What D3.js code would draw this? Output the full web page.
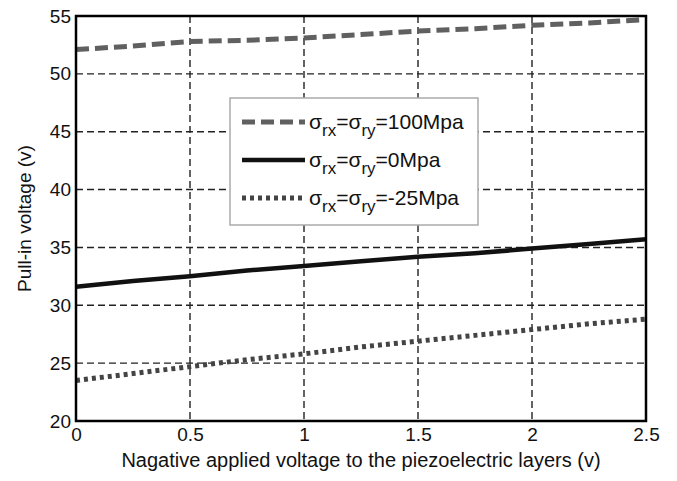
<!DOCTYPE html>
<html>
<head>
<meta charset="utf-8">
<script src="https://cdn.jsdelivr.net/npm/d3@7"></script>
<style>
  body { margin: 0; background: #fff; }
  svg { font-family: "Liberation Sans", Arial, sans-serif; }
  .grid line { stroke: #222; stroke-width: 1.4; stroke-dasharray: 7,4; }
  .tick text { font-size: 19px; fill: #111; }
</style>
</head>
<body>
<svg id="chart" width="677" height="481"></svg>
<script>
// data
const xValues = [0, 0.25, 0.5, 0.75, 1, 1.25, 1.5, 1.75, 2, 2.25, 2.5]
const stress100 = [52.1, 52.4, 52.8, 52.9, 53.1, 53.4, 53.7, 53.9, 54.2, 54.4, 54.7]
const stress0 = [31.6, 32.1, 32.5, 33.0, 33.4, 33.8, 34.2, 34.5, 34.9, 35.3, 35.7]
const stressNeg25 = [23.5, 24.1, 24.7, 25.3, 25.8, 26.4, 26.9, 27.4, 27.9, 28.4, 28.8]
const xTicks = [0, 0.5, 1, 1.5, 2, 2.5]
const yTicks = [20, 25, 30, 35, 40, 45, 50, 55]
const legendLabels = ['100Mpa', '0Mpa', '-25Mpa']

const margin = {top: 16, right: 31, bottom: 60, left: 76}
const width = 677 - margin.left - margin.right
const height = 481 - margin.top - margin.bottom

const svg = d3.select('#chart')
const g = svg.append('g')
  .attr('transform', 'translate(' + margin.left + ',' + margin.top + ')')

const x = d3.scaleLinear().domain([0, 2.5]).range([0, width])
const y = d3.scaleLinear().domain([20, 55]).range([height, 0])

// grid
const grid = g.append('g').classed('grid', true)
grid.selectAll('line.v')
  .data(xTicks.slice(1, -1))
  .enter().append('line')
  .attr('x1', d => x(d)).attr('x2', d => x(d))
  .attr('y1', 0).attr('y2', height)
grid.selectAll('line.h')
  .data(yTicks.slice(1, -1))
  .enter().append('line')
  .attr('x1', 0).attr('x2', width)
  .attr('y1', d => y(d)).attr('y2', d => y(d))

// axes
const xAxis = d3.axisBottom(x).tickValues(xTicks).tickSize(0).tickPadding(7)
  .tickFormat(d3.format('~g'))
const yAxis = d3.axisLeft(y).tickValues(yTicks).tickSize(0).tickPadding(5)
g.append('g').attr('transform', 'translate(0,' + height + ')').call(xAxis)
  .call(s => s.select('.domain').remove())
g.append('g').call(yAxis)
  .call(s => s.select('.domain').remove())

// series
const series = [
  {values: stress100, color: '#606060', width: 5, dash: '13,6'},
  {values: stress0, color: '#111', width: 4.5, dash: null},
  {values: stressNeg25, color: '#444', width: 5, dash: '4,4'}
]
const line = d3.line().x(d => x(d[0])).y(d => y(d[1]))
series.forEach(s => {
  g.append('path')
    .datum(xValues.map((v, i) => [v, s.values[i]]))
    .attr('fill', 'none')
    .attr('stroke', s.color)
    .attr('stroke-width', s.width)
    .attr('stroke-dasharray', s.dash)
    .attr('d', line)
})

// frame
g.append('rect')
  .attr('width', width).attr('height', height)
  .attr('fill', 'none').attr('stroke', '#000').attr('stroke-width', 2.5)

// legend
const legend = g.append('g').attr('transform', 'translate(154,82)')
legend.append('rect')
  .attr('width', 248).attr('height', 127)
  .attr('fill', '#fff').attr('stroke', '#aaa').attr('stroke-width', 1.5)
series.forEach((s, i) => {
  const row = legend.append('g').attr('transform', 'translate(0,' + (24 + i * 38) + ')')
  row.append('line')
    .attr('x1', 12).attr('x2', 75)
    .attr('stroke', s.color).attr('stroke-width', s.width)
    .attr('stroke-dasharray', s.dash)
  const t = row.append('text').attr('x', 79).attr('y', 7).attr('font-size', 21).attr('fill', '#111')
  t.append('tspan').text('σ')
  t.append('tspan').attr('dy', 7).attr('font-size', 17).text('rx')
  t.append('tspan').attr('dy', -7).text('=σ')
  t.append('tspan').attr('dy', 7).attr('font-size', 17).text('ry')
  t.append('tspan').attr('dy', -7).text('=' + legendLabels[i])
})

// axis titles
svg.append('text')
  .attr('x', margin.left + width / 2).attr('y', 467)
  .attr('text-anchor', 'middle').attr('font-size', 20).attr('fill', '#111')
  .text('Nagative applied voltage to the piezoelectric layers (v)')
svg.append('text')
  .attr('transform', 'translate(31,' + (margin.top + height / 2) + ') rotate(-90)')
  .attr('text-anchor', 'middle').attr('font-size', 19).attr('fill', '#111')
  .text('Pull-in voltage (v)')
</script>
</body>
</html>
